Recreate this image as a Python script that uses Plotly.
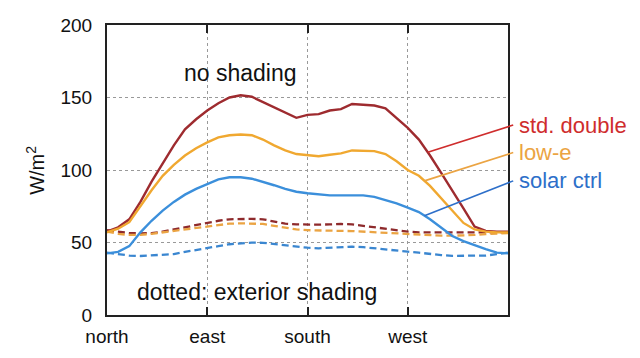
import plotly.graph_objects as go

# orientation in degrees (north=0, east=90, south=180, west=270, north=360)
orientation = list(range(0, 361, 10))

std_double = [57.5, 60.5, 66, 78, 92, 105, 117, 128, 135, 141, 146, 150, 151.5, 150.5, 147, 143,
              139.5, 136, 138, 138.5, 141, 142, 145.5, 145, 144.5, 142.5, 136, 129, 121, 110, 98,
              86, 73.5, 61, 58, 57.5, 57.5]
low_e = [57, 59.5, 64, 75, 86, 96, 103.5, 110, 115, 119, 122.5, 124, 124.5, 124, 121, 117, 113.5,
         111, 110, 109.5, 110.5, 111.5, 113.5, 113.5, 113, 111, 106, 100, 96, 89, 80.5, 72, 63.5,
         59, 57.5, 57, 57]
solar_ctrl = [42.5, 43.5, 47.5, 57, 65, 72, 78, 83, 87, 90.5, 93.5, 95, 95, 94, 92, 89.5, 87, 85,
              84, 83, 82.5, 82.5, 82.5, 82.5, 81.5, 79.5, 77, 74, 71, 66, 60, 54.5, 51, 48, 45.5,
              43, 42.5]

std_double_ext = [58.5, 57.5, 56.5, 56.3, 56.5, 57.5, 59, 60.5, 62.5, 63.7, 65, 66, 66.3, 66.3, 66,
                  64.5, 63, 62.5, 62.3, 62.3, 62.5, 62.8, 62.5, 61.5, 60.5, 59, 58, 57.5, 57, 57,
                  56.8, 56.8, 56.8, 57, 57, 57, 57]
low_e_ext = [57.5, 56, 55.2, 55.3, 56, 57, 58, 59.5, 60.5, 61.4, 62.5, 63, 63.2, 63, 62.8, 61.5,
             60, 59, 58.5, 58.2, 58, 58, 57.9, 57.5, 56.8, 56.2, 56, 55.8, 55.5, 55, 54.7, 54.7,
             54.8, 55.2, 55.8, 56.3, 56.5]
solar_ctrl_ext = [43, 42, 41, 40.7, 41, 41.5, 42, 43.5, 45, 46, 47.5, 48.8, 49.4, 49.9, 49.8, 49,
                  48, 47, 46.4, 46, 46.3, 47, 47.1, 46.8, 46, 45, 44, 43.7, 43, 42, 41.3, 40.8,
                  40.7, 40.7, 41, 42, 43]

tick_vals = [0, 90, 180, 270]
tick_text = ["north", "east", "south", "west"]
y_ticks = [0, 50, 100, 150, 200]

labels = ["std. double", "low-e", "solar ctrl"]
line_colors = ["#9e2b2f", "#f0a830", "#3b8fdb"]
dash_colors = ["#8e2a2c", "#eba443", "#3a86d0"]
label_colors = ["#cf2d2d", "#eba443", "#2d6fc9"]
# leader lines: (orientation of start, label y in data units)
leader_start_x = [288, 285, 285]
leader_end_y = [131, 112, 92.5]

FONT = "Arial, Liberation Sans, sans-serif"

fig = go.Figure()
solids = [std_double, low_e, solar_ctrl]
dashed = [std_double_ext, low_e_ext, solar_ctrl_ext]

for vals, c in zip(dashed, dash_colors):
    fig.add_trace(go.Scatter(x=orientation, y=vals, mode="lines",
                             line=dict(color=c, width=2.3, dash="7px,4px"),
                             showlegend=False, hoverinfo="skip"))
for vals, c, name in zip(solids, line_colors, labels):
    fig.add_trace(go.Scatter(x=orientation, y=vals, mode="lines", name=name,
                             line=dict(color=c, width=2.4), showlegend=False))

xmax = 360.0
ymax = 200.0
for name, vals, lx, ly, c in zip(labels, solids, leader_start_x, leader_end_y, label_colors):
    i0 = lx // 10
    f = (lx - orientation[i0]) / 10.0
    yv = vals[i0] + f * (vals[i0 + 1] - vals[i0])
    fig.add_shape(type="line", xref="paper", yref="paper",
                  x0=lx / xmax, y0=yv / ymax, x1=1.013, y1=ly / ymax,
                  line=dict(color=c, width=1.6))
    fig.add_annotation(xref="paper", yref="paper", x=1.022, y=ly / ymax,
                       text=name, showarrow=False, xanchor="left", yanchor="middle",
                       font=dict(family=FONT, size=22, color=c))

fig.add_annotation(x=120, y=167, text="no shading", showarrow=False,
                   font=dict(family=FONT, size=23, color="#111"))
fig.add_annotation(x=135, y=16, text="dotted: exterior shading", showarrow=False,
                   font=dict(family=FONT, size=23, color="#111"))
fig.add_annotation(xref="paper", yref="paper", x=-0.18, y=0.5, text="W/m<sup>2</sup>",
                   textangle=-90, showarrow=False, xanchor="center", yanchor="middle",
                   font=dict(family=FONT, size=20, color="#111"))

fig.update_layout(
    width=640, height=358,
    margin=dict(l=107, r=132, t=25, b=43, autoexpand=False),
    paper_bgcolor="white", plot_bgcolor="white",
    font=dict(family=FONT, size=19, color="#111"),
    xaxis=dict(range=[0, 360], tickvals=tick_vals, ticktext=tick_text,
               showgrid=True, gridcolor="#999", griddash="dot", gridwidth=1,
               showline=True, linecolor="#222", linewidth=2, mirror="ticks",
               ticks="inside", ticklen=8, tickcolor="#222", tickwidth=1.5,
               zeroline=False, ticklabelstandoff=3, automargin=False),
    yaxis=dict(range=[0, 200], tickvals=y_ticks,
               showgrid=True, gridcolor="#999", griddash="dot", gridwidth=1,
               showline=True, linecolor="#222", linewidth=2, mirror=True,
               ticks="", zeroline=False, ticklabelstandoff=9, automargin=False),
)

fig.write_html("out.html", config={"displayModeBar": False},
               post_script="document.body.style.margin='0';")
